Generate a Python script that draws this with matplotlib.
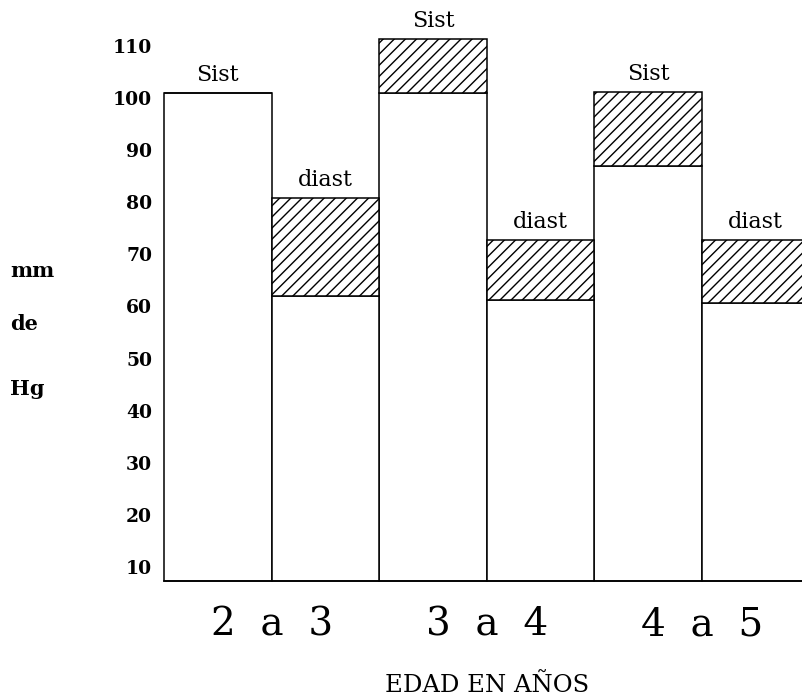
import matplotlib
matplotlib.use("Agg")
import matplotlib.pyplot as plt
import numpy as np

# ---- data ----
age_groups = ["2  a  3", "3  a  4", "4  a  5"]
sist_low = [101, 101, 87]
sist_high = [101, 111.3, 101.2]
diast_low = [62, 61.2, 60.7]
diast_high = [80.8, 72.8, 72.8]
bar_labels = ["Sist", "diast"]
y_ticks = [10, 20, 30, 40, 50, 60, 70, 80, 90, 100, 110]

plt.rcParams["hatch.linewidth"] = 1.0

fig = plt.figure(figsize=(8.02, 6.99), dpi=100)
ax = fig.add_axes([164 / 802, 118 / 699, 638 / 802, 581 / 699])

y0 = 7.3
ax.set_ylim(y0, 118.8)
ax.set_xlim(-0.5, 5.43)

xs = np.arange(3) * 2
xd = xs + 1
lows = [sist_low, diast_low]
highs = [sist_high, diast_high]
for k, x in enumerate([xs, xd]):
    lo = np.array(lows[k])
    hi = np.array(highs[k])
    b1 = ax.bar(x, lo - y0, bottom=y0, width=1.0, color="white",
                edgecolor="black", linewidth=1.1)
    b2 = ax.bar(x, hi - lo, bottom=lo, width=1.0, color="white",
                edgecolor="black", linewidth=1.1, hatch="///")
    for p in list(b1) + list(b2):
        p.set_clip_on(False)
    for xi, h in zip(x, hi):
        ax.annotate(bar_labels[k], (xi, h), xytext=(0, 5),
                    textcoords="offset points", ha="center", va="bottom",
                    fontsize=16, family="DejaVu Serif")

for s in ["left", "right", "top"]:
    ax.spines[s].set_visible(False)
ax.spines["bottom"].set_linewidth(1.2)

ax.set_yticks(y_ticks)
ax.set_yticklabels([str(t) for t in y_ticks], fontsize=13.5,
                   family="DejaVu Serif", fontweight="bold")
ax.tick_params(axis="y", length=0, pad=8.6)

ax.set_xticks(xs + 0.5)
ax.set_xticklabels(age_groups, fontsize=28, family="DejaVu Serif")
ax.tick_params(axis="x", length=0, pad=18)

for txt, yb in zip(["mm", "de", "Hg"], [277, 330, 395]):
    fig.text(10 / 802, 1 - yb / 699, txt, ha="left", va="baseline",
             fontsize=15, family="DejaVu Serif", fontweight="bold")

fig.text(487 / 802, 1 - 692 / 699, "EDAD EN AÑOS", ha="center",
         va="baseline", fontsize=17.5, family="DejaVu Serif")

fig.savefig("out.png", dpi=100)
